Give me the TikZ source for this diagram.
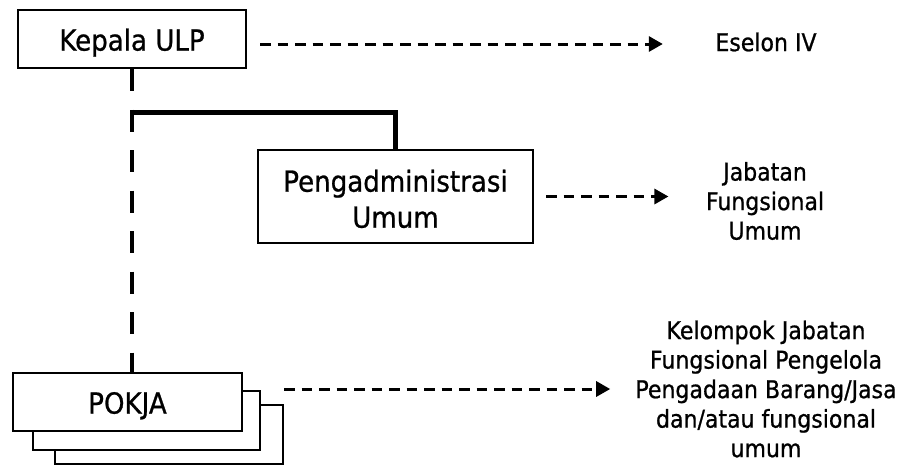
\documentclass[tikz,border=0pt]{standalone}
\usepackage{fontspec}
\setmainfont{DejaVu Sans}[FakeStretch=0.9,FakeBold=0.8]
\usetikzlibrary{arrows.meta,calc}
\begin{document}
\begin{tikzpicture}[x=1pt,y=-1pt,
  box/.style={draw=black, line width=2pt, fill=white, inner sep=0pt,
    font=\fontsize{29}{36}\selectfont},
  side/.style={inner sep=0pt, align=center, font=\fontsize{24.5}{29.5}\selectfont},
  darrow/.style={line width=3pt, dash pattern=on 10.5pt off 7pt,
    -{Triangle[length=14pt,width=15pt]}},
  vdash/.style={line width=4.5pt, dash pattern=on 22pt off 18.5pt},
  thickline/.style={line width=4.5pt, line join=miter},
]
\useasboundingbox[fill=white] (0,0) rectangle (919,467);

% boxes
\node[box, minimum width=228pt, minimum height=58pt, text height=23.2pt, text depth=0pt]
  (kepala) at (132,39) {Kepala ULP};
\node[box, minimum width=275pt, minimum height=93pt, align=center,
  text height=62.4pt, text depth=0pt]
  (admin) at (395.5,196.5) {Pengadministrasi\\Umum};

\node[box, minimum width=228pt, minimum height=59pt] (pokja3) at (169,434.5) {};
\node[box, minimum width=227pt, minimum height=59pt] (pokja2) at (146.5,420.5) {};
\node[box, minimum width=229pt, minimum height=58pt, text height=23.2pt, text depth=0pt]
  (pokja) at (127.5,402) {POKJA};

% side texts
\node[side] (eselon) at (766,42) {Eselon IV};
\node[side] (jab) at (765,201) {Jabatan\\Fungsional\\Umum};
\node[side] (kel) at (766,389) {Kelompok Jabatan\\Fungsional Pengelola\\Pengadaan Barang/Jasa\\dan/atau fungsional\\umum};

% hierarchy lines
\draw[vdash] (kepala.south) -- (kepala.south |- pokja.north);
\coordinate (corner) at ($(kepala.south)+(0,43.5)$);
\draw[thickline] ($(corner)+(0,18)$) -- (corner) -- (corner -| admin.north) -- (admin.north);

% dashed arrows
\draw[darrow, shorten <=13pt, shorten >=52.4pt] ([yshift=-2pt]eselon.west -| kepala.east) -- ([yshift=-2pt]eselon.west);
\draw[darrow, shorten <=12pt, shorten >=37.3pt] (admin.east) -- (admin.east -| jab.west);
\draw[darrow, shorten >=25pt] (pokja3.east |- kel.west) -- (kel.west);
\end{tikzpicture}
\end{document}
